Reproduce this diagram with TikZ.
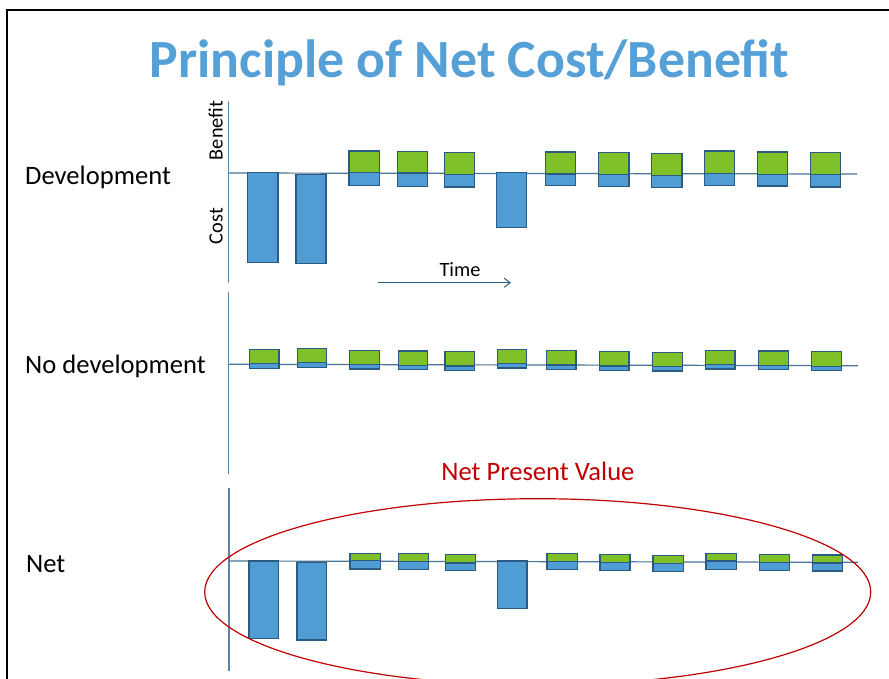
\documentclass[tikz,border=0pt]{standalone}
\usepackage{fontspec}
\setmainfont{Carlito}
\usetikzlibrary{arrows.meta}
\definecolor{titleblue}{HTML}{56A0D8}
\definecolor{barblue}{HTML}{509DD6}
\definecolor{bargreen}{HTML}{80C12A}
\definecolor{baredge}{HTML}{2B5B82}
\definecolor{axisc}{HTML}{5F83A3}
\definecolor{npvred}{HTML}{C00000}
\tikzset{
  bluebar/.style={fill=barblue,draw=baredge,line width=1.1pt},
  greenbar/.style={fill=bargreen,draw=baredge,line width=1.1pt},
  axisline/.style={draw=axisc,line width=1.5pt},
  zeroline/.style={draw=baredge!85!white,line width=1.2pt},
  lbl/.style={inner sep=0pt,font=\fontsize{26.6}{30}\selectfont},
  smalllbl/.style={inner sep=0pt,font=\fontsize{20.3}{24}\selectfont},
}
\begin{document}
\begin{tikzpicture}[x=1pt,y=-1pt]
\useasboundingbox (0,0) rectangle (889,678);
\fill[white] (0,0) rectangle (889,678);
% frame
\draw[black,line width=2pt] (7,680) -- (7,10) -- (891,10);
% title
\node[inner sep=0pt,anchor=base,text=titleblue,font=\fontsize{53.8}{60}\selectfont\bfseries] (title) at (469.5,77) {Principle of Net Cost/Benefit};
% row labels
\node[lbl,anchor=base west] (dev) at (25,184) {Development};
\node[lbl,anchor=base west] (nodev) at (25,373) {No development};
\node[lbl,anchor=base west] (net) at (26,572) {Net};
\node[smalllbl,anchor=base,rotate=90] (benefit) at (222.7,130.5) {Benefit};
\node[smalllbl,anchor=base,rotate=90] (cost) at (222.7,226) {Cost};
\node[smalllbl,anchor=base] (time) at (460,276.7) {Time};
\node[lbl,anchor=base west,text=npvred] (npv) at (441.2,480.7) {Net Present Value};
% axes
\coordinate (a1t) at (228.5,101); \coordinate (a1b) at (228.5,283);
\coordinate (a2t) at (228.5,292); \coordinate (a2b) at (228.5,474);
\coordinate (a3t) at (229,488);   \coordinate (a3b) at (229,671);
\draw[axisline] (a1t) -- (a1b);
\draw[axisline] (a2t) -- (a2b);
\draw[axisline] (a3t) -- (a3b);
\coordinate (h1a) at (229,173);   \coordinate (h1b) at (857,174);
\coordinate (h2a) at (229,364.3); \coordinate (h2b) at (858,365.7);
\coordinate (h3a) at (229,561);   \coordinate (h3b) at (858,562.3);
\draw[zeroline] (h1a) -- (h1b);
\draw[zeroline] (h2a) -- (h2b);
\draw[zeroline] (h3a) -- (h3b);
% time arrow
\coordinate (ts) at (378.3,282.7); \coordinate (te) at (511,282.7);
\draw[draw=baredge,line width=1pt,-{Straight Barb[length=6pt,width=9pt]}] (ts) -- (te);
% Development bars
\foreach \xl/\xr/\t/\m/\b in {349/379.3/151/172.7/185.7, 397.3/427.3/151.7/173/186.3, 444.3/474.3/152.3/174.3/187,
  545.7/575.7/152/174/185.7, 598.7/629/152.7/174.5/186.7, 651.7/682/153.3/175.3/187.3,
  704.7/734.7/151/173.7/185.3, 757.7/787.7/152/174.3/186, 810.7/840.7/152.7/174.7/187}{
  \draw[bluebar] (\xl,\m) rectangle (\xr,\b);
  \draw[greenbar] (\xl,\t) rectangle (\xr,\m);
}
\foreach \xl/\xr/\t/\b in {247.7/278/172.7/262.3, 296/326/174.3/263.7, 496.7/526.7/172.7/227.3}{
  \draw[bluebar] (\xl,\t) rectangle (\xr,\b);
}
% No development bars
\foreach \xl/\xr/\t/\m/\b in {249.3/279/349.3/363.7/368.3, 297.3/326.7/348.3/362.7/367.3, 349.7/379.3/350.3/364.7/369,
  398.3/427.7/351/365.7/369.7, 445/474.7/351.3/366/370.3, 497.3/526.7/349.3/363.7/368,
  546.7/576/350.3/365/369.3, 599.7/629/351.3/366/370.3, 652.7/682.7/352.3/366.3/371,
  705.7/735/350.3/364.3/369, 758.7/788.3/351/365.7/369.7, 811.3/841.3/351.7/366.3/370.3}{
  \draw[bluebar] (\xl,\m) rectangle (\xr,\b);
  \draw[greenbar] (\xl,\t) rectangle (\xr,\m);
}
% Net bars
\foreach \xl/\xr/\t/\m/\b in {350/380.3/553.3/560.7/569, 398.7/428.7/553.7/561.7/569.7, 445.7/475.7/554.7/563/570.3,
  547/577.3/553.7/561.7/569.7, 600/630/554.7/562.7/570.7, 653/683.3/555.3/563.7/571.3,
  706/736.3/553.3/561/569.3, 759.3/789.3/554.3/562.3/570.3, 812.3/842.3/555/563/571}{
  \draw[bluebar] (\xl,\m) rectangle (\xr,\b);
  \draw[greenbar] (\xl,\t) rectangle (\xr,\m);
}
\foreach \xl/\xr/\t/\b in {249/278.7/561/638.3, 297/326.7/562.3/640, 497.7/527/561/608.3}{
  \draw[bluebar] (\xl,\t) rectangle (\xr,\b);
}
% NPV ellipse
\coordinate (ec) at (537.7,592);
\draw[npvred,line width=1.2pt] (ec) ellipse [x radius=333, y radius=93.3];
\end{tikzpicture}
\end{document}
